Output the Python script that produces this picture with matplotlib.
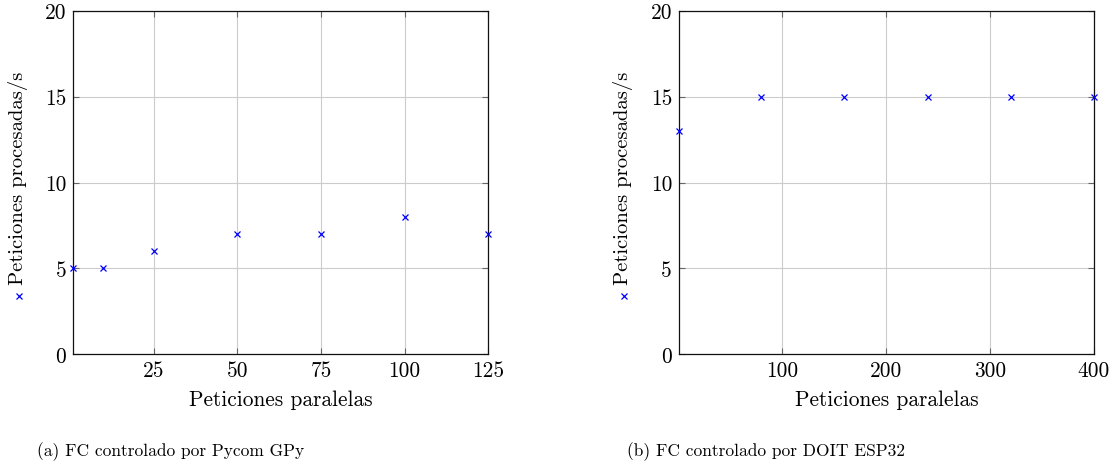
import matplotlib
matplotlib.use("Agg")
import matplotlib.pyplot as plt
from matplotlib.lines import Line2D

plt.rcParams["font.family"] = ["cmr10", "DejaVu Serif"]
plt.rcParams["mathtext.fontset"] = "cm"
plt.rcParams["axes.formatter.use_mathtext"] = True

# Throughput measurements (requests processed per second vs. parallel requests)
gpy_parallel = [1, 10, 25, 50, 75, 100, 125]
gpy_rate = [5, 5, 6, 7, 7, 8, 7]

esp_parallel = [1, 80, 160, 240, 320, 400]
esp_rate = [13, 15, 15, 15, 15, 15]

y_ticks = [0, 5, 10, 15, 20]
gpy_xticks = [25, 50, 75, 100, 125]
esp_xticks = [100, 200, 300, 400]

x_label = "Peticiones paralelas"
y_label = "Peticiones procesadas/s"
captions = ["(a) FC controlado por Pycom GPy", "(b) FC controlado por DOIT ESP32"]

W, H = 1111, 477
fig = plt.figure(figsize=(W / 100, H / 100), dpi=100)

ax_w = 415 / W
ax_h = 343.6 / H
ax_bottom = (H - 355.3) / H
ax_a = fig.add_axes([73.3 / W, ax_bottom, ax_w, ax_h])
ax_b = fig.add_axes([679 / W, ax_bottom, ax_w, ax_h])

panels = [
    (ax_a, gpy_parallel, gpy_rate, gpy_xticks, 18, 170.5, captions[0]),
    (ax_b, esp_parallel, esp_rate, esp_xticks, 623, 766, captions[1]),
]

FS = 15.4
for ax, xs, ys, xt, lab_x, cap_x, cap in panels:
    ax.plot(xs, ys, linestyle="none", marker="x", color="#0000ff",
            markersize=4.6, markeredgewidth=0.9, clip_on=False, zorder=5)
    ax.set_xlim(min(xs), max(xs))
    ax.set_ylim(y_ticks[0], y_ticks[-1])
    ax.set_xticks(xt)
    ax.set_xticklabels([str(v) for v in xt], fontsize=FS)
    ax.set_yticks(y_ticks)
    ax.set_yticklabels([str(v) for v in y_ticks], fontsize=FS)
    ax.grid(True, color="#cccccc", linewidth=0.8, zorder=0)
    ax.set_axisbelow(True)
    ax.tick_params(direction="in", length=4.5, width=0.8, color="#666666",
                   top=True, right=True, pad=5.0)
    ax.tick_params(axis="x", pad=4.5)
    for s in ax.spines.values():
        s.set_linewidth(0.9)
        s.set_color("#111111")

    ax.set_xlabel(x_label, fontsize=FS, va="center")
    ax.xaxis.set_label_coords(0.5, (355.3 - 400) / 343.6)

    # y label with the series marker placed in front of it
    fig.text(lab_x / W, (H - 285) / H, y_label, rotation=90, fontsize=14.9,
             ha="center", va="bottom")
    fig.add_artist(Line2D([(lab_x + 1) / W], [(H - 297) / H], marker="x",
                          color="#0000ff", markersize=4.6, markeredgewidth=0.9,
                          linestyle="none", transform=fig.transFigure))

    fig.text(cap_x / W, (H - 452) / H, cap, fontsize=12.5,
             ha="center", va="center")

fig.savefig("out.png", dpi=100)
